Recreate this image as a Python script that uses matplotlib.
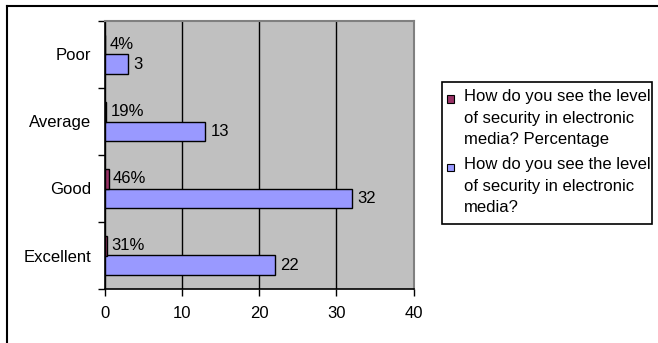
import matplotlib.pyplot as plt
from matplotlib.patches import Rectangle
import numpy as np

plt.rcParams['font.family'] = ['Liberation Sans', 'DejaVu Sans']

# survey answers, bottom to top
answers = ['Excellent', 'Good', 'Average', 'Poor']
counts = [22, 32, 13, 3]
share = [0.31, 0.46, 0.19, 0.04]

series_name = 'How do you see the level\nof security in electronic\nmedia?'
share_name = 'How do you see the level\nof security in electronic\nmedia? Percentage'

purple = '#993366'
lilac = '#9999ff'
fs = 12

fig = plt.figure(figsize=(6.58, 3.43), dpi=100)
W, H = 658, 343

ax = fig.add_axes([105 / W, 1 - 289 / H, 308.5 / W, 268 / H])
ax.set_facecolor('#c0c0c0')

y = np.arange(len(answers))
h = 1 / 3.5
cnt = ax.barh(y - h / 2, counts, h, color=lilac, edgecolor='black', linewidth=1, zorder=3)
pct = ax.barh(y + h / 2, share, h, color=purple, edgecolor='black', linewidth=1, zorder=3)

ax.bar_label(cnt, padding=4, fontsize=fs)
ax.bar_label(pct, fmt='{:.0%}', padding=3, fontsize=fs)

ax.set_xlim(0, 40)
ax.set_ylim(-0.5, len(answers) - 0.5)
ax.set_xticks(range(0, 41, 10))
ax.xaxis.grid(True, color='black', linewidth=1, zorder=1)
ax.set_axisbelow(True)

# category boundaries as ticks, names centred between them
ax.set_yticks(np.arange(-0.5, len(answers), 1))
ax.set_yticklabels([])
ax.set_yticks(y, answers, minor=True)
ax.tick_params(axis='y', which='major', direction='out', length=5, width=1)
ax.tick_params(axis='y', which='minor', length=0, pad=10, labelsize=fs)
ax.tick_params(axis='x', direction='out', length=5, width=1, pad=7, labelsize=fs)

for side in ('left', 'bottom'):
    ax.spines[side].set_color('black')
    ax.spines[side].set_linewidth(1.2)
for side in ('top', 'right'):
    ax.spines[side].set_color('#808080')
    ax.spines[side].set_linewidth(1.5)

# chart frame (only top and left edges inside the image)
fig.add_artist(plt.Line2D([7 / W, 1], [1 - 5.5 / H] * 2, color='black', linewidth=1.5))
fig.add_artist(plt.Line2D([7 / W] * 2, [0, 1 - 5.5 / H], color='black', linewidth=1.5))

# legend
fig.add_artist(Rectangle((441.5 / W, 1 - 224 / H), 210 / W, 142 / H, transform=fig.transFigure,
                         facecolor='white', edgecolor='black', linewidth=1.2))
for top, color, label in [(99, purple, share_name), (167, lilac, series_name)]:
    fig.add_artist(Rectangle((447 / W, 1 - (top + 3.5) / H), 7 / W, 7 / H,
                             transform=fig.transFigure, facecolor=color,
                             edgecolor='black', linewidth=0.8))
    fig.text(464 / W, 1 - (top - 10) / H, label, fontsize=fs, va='top', ha='left',
             linespacing=1.55)

fig.savefig('out.png', dpi=100)
